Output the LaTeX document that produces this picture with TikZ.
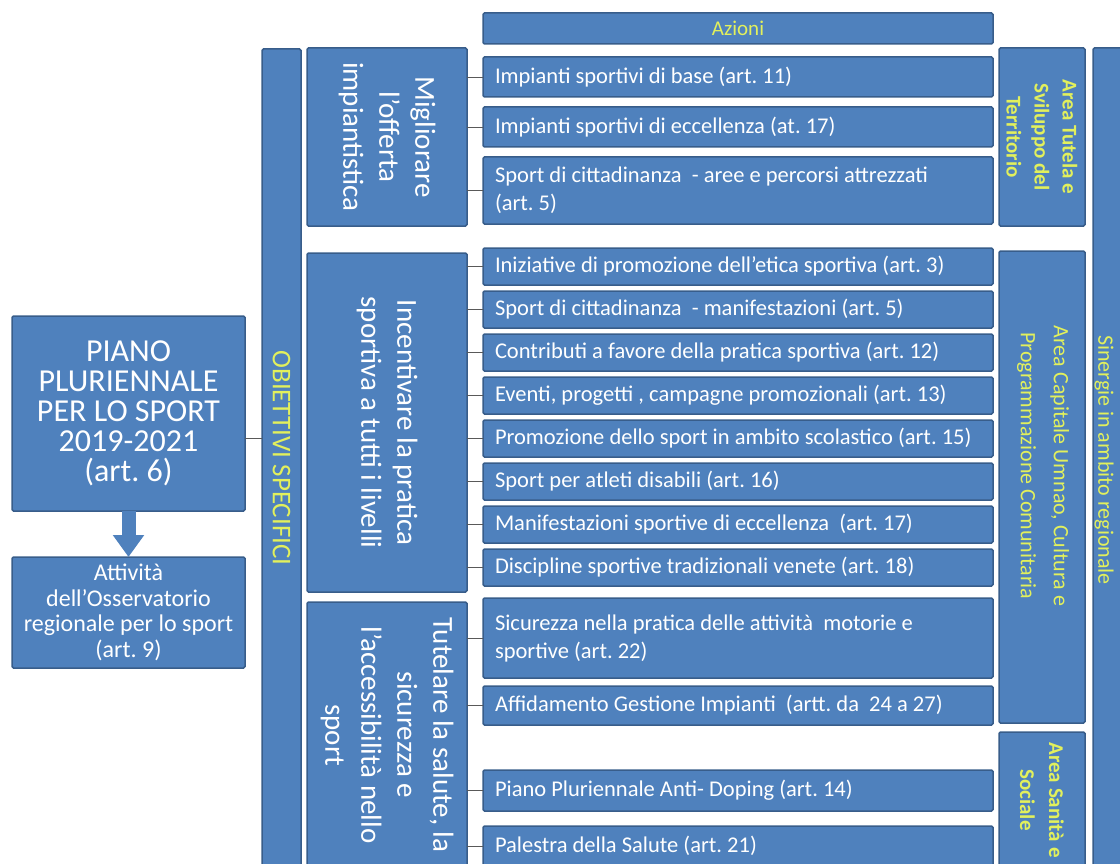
\documentclass[tikz,border=0pt]{standalone}
\usepackage{fontspec}
\setmainfont{Carlito}
\usetikzlibrary{arrows.meta}

\definecolor{boxfill}{RGB}{79,129,189}
\definecolor{boxline}{RGB}{56,93,138}
\definecolor{hilite}{RGB}{226,240,92}

\tikzset{
  box/.style={draw=boxline,fill=boxfill,line width=1.5pt,rounded corners=1.5pt,text=white,inner sep=0pt,outer sep=0pt},
  actbox/.style={box,text width=486pt,inner xsep=12pt,align=left,font=\fontsize{22.5}{28}\selectfont,
    execute at begin node={\spaceskip=0pt\xspaceskip=0pt}},
  goalbox/.style={box,rotate=-90,minimum height=160pt,align=center,font=\fontsize{29}{36}\selectfont},
  areabox/.style={box,rotate=-90,minimum height=86pt,align=center,text=hilite},
  link/.style={draw=black!65,line width=0.8pt}
}

\begin{document}
\frenchspacing
\begin{tikzpicture}[>=latex,x=1pt,y=-1pt]
	\useasboundingbox (0,0) rectangle (1120,864);
	\clip (0,0) rectangle (1120,864);
	% left column
	\node [box,minimum width=233pt,minimum height=195pt,align=center,font=\fontsize{32}{30}\selectfont] at (128.5,413.5) (Piano) {PIANO\\PLURIENNALE\\PER LO SPORT\\2019-2021\\(art. 6)};
	\node [box,minimum width=233pt,minimum height=111pt,align=center,font=\fontsize{24}{25.5}\selectfont] at (128.5,612.5) (Oss) {Attività\\dell’Osservatorio\\regionale per lo sport\\(art. 9)};
	\draw [boxfill,line width=14pt,-{Triangle[width=30pt,length=22pt]}] (Piano.south) -- (Oss.north);
	% objectives
	\node [box,rotate=-90,minimum width=818pt,minimum height=39pt,text=hilite,font=\fontsize{27}{30}\selectfont] at (281.5,458) (Obj) {OBIETTIVI SPECIFICI};
	\draw [link] ([yshift=-24.5pt]Piano.east) -- ([yshift=-24.5pt]Piano.east -| Obj.south);
	\node [goalbox,minimum width=178pt] at (387,137) (Migl) {Migliorare\\l’offerta\\impiantistica};
	\node [goalbox,minimum width=339pt] at (387,422.5) (Inc) {Incentivare la pratica\\sportiva a tutti i livelli};
	\node [goalbox,minimum width=266pt] at (387,735) (Tut) {Tutelare la salute, la\\sicurezza e\\l’accessibilità nello\\sport};
	% actions
	\node [box,minimum width=510pt,minimum height=31pt,text=hilite,font=\fontsize{21}{24}\selectfont] at (738,28.5) (Az) {Azioni};
	\node [actbox,minimum height=40pt] at (738,77) (A1) {Impianti sportivi di base (art. 11)};
	\node [actbox,minimum height=40pt] at (738,127) (A2) {Impianti sportivi di eccellenza (at. 17)};
	\node [actbox,minimum height=67pt] at (738,190.5) (A3) {Sport di cittadinanza \ - aree e percorsi attrezzati\\(art. 5)};
	\node [actbox,minimum height=37pt] at (738,266.5) (B1) {Iniziative di promozione dell’etica sportiva (art. 3)};
	\node [actbox,minimum height=37pt] at (738,309.5) (B2) {Sport di cittadinanza \ - manifestazioni (art. 5)};
	\node [actbox,minimum height=37pt] at (738,352.5) (B3) {Contributi a favore della pratica sportiva (art. 12)};
	\node [actbox,minimum height=37pt] at (738,395.5) (B4) {Eventi, progetti , campagne promozionali (art. 13)};
	\node [actbox,minimum height=37pt] at (738,438.5) (B5) {Promozione dello sport in ambito scolastico (art. 15)};
	\node [actbox,minimum height=37pt] at (738,481.5) (B6) {Sport per atleti disabili (art. 16)};
	\node [actbox,minimum height=37pt] at (738,524.5) (B7) {Manifestazioni sportive di eccellenza \ (art. 17)};
	\node [actbox,minimum height=37pt] at (738,567.5) (B8) {Discipline sportive tradizionali venete (art. 18)};
	\node [actbox,minimum height=80pt] at (738,638) (C1) {Sicurezza nella pratica delle attività \ motorie e\\sportive (art. 22)};
	\node [actbox,minimum height=39pt] at (738,705.5) (C2) {Affidamento Gestione Impianti \ (artt. da \ 24 a 27)};
	\node [actbox,minimum height=41pt] at (738,790.5) (C3) {Piano Pluriennale Anti- Doping (art. 14)};
	\node [actbox,minimum height=40pt] at (738,846) (C4) {Palestra della Salute (art. 21)};
	% links objective -> action
	\draw [link] (A1.west) -- (A1.west -| Migl.north);
	\draw [link] (A2.west) -- (A2.west -| Migl.north);
	\draw [link] (A3.west) -- (A3.west -| Migl.north);
	\draw [link] (B1.west) -- (B1.west -| Inc.north);
	\draw [link] (B2.west) -- (B2.west -| Inc.north);
	\draw [link] (B3.west) -- (B3.west -| Inc.north);
	\draw [link] (B4.west) -- (B4.west -| Inc.north);
	\draw [link] (B5.west) -- (B5.west -| Inc.north);
	\draw [link] (B6.west) -- (B6.west -| Inc.north);
	\draw [link] (B7.west) -- (B7.west -| Inc.north);
	\draw [link] (B8.west) -- (B8.west -| Inc.north);
	\draw [link] (C1.west) -- (C1.west -| Tut.north);
	\draw [link] (C2.west) -- (C2.west -| Tut.north);
	\draw [link] (C3.west) -- (C3.west -| Tut.north);
	\draw [link] (C4.west) -- (C4.west -| Tut.north);
	% areas
	\node [areabox,minimum width=178pt,font=\bfseries\fontsize{21}{28}\selectfont] at (1042,137) (Terr) {Area Tutela e\\Sviluppo del\\Territorio};
	\node [areabox,minimum width=472pt] at (1042,487) (Cult) {};
	\node [text=hilite,rotate=-90,align=center,font=\fontsize{22}{33}\selectfont] at (1043,466) (CultTxt) {Area Capitale Umnao, Cultura e\\Programmazione Comunitaria};
	\node [areabox,minimum width=136pt,font=\bfseries\fontsize{21}{29}\selectfont] at (1042,800) (San) {Area Sanità e\\Sociale};
	\node [box,rotate=-90,minimum width=818pt,minimum height=42pt] at (1114,457) (Sin) {};
	\node [text=hilite,rotate=-90,font=\fontsize{22}{26}\selectfont] at (1104,460) (SinTxt) {Sinergie in ambito regionale};
\end{tikzpicture}
\end{document}
